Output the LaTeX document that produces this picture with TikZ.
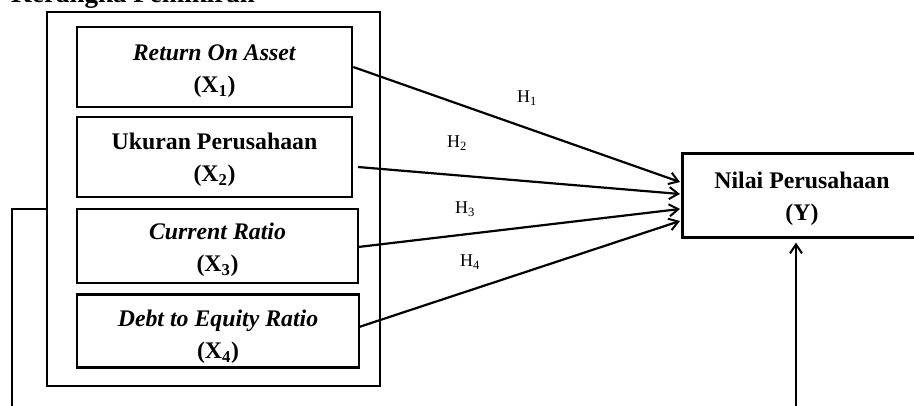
\documentclass[tikz,border=0pt]{standalone}
\usepackage{fontspec}
\setmainfont{Liberation Serif}
\usetikzlibrary{arrows.meta,calc}
\newcommand{\lowerby}[1]{\rule{0pt}{#1}}
\begin{document}
\begin{tikzpicture}[x=1pt,y=-1pt,
  boxfont/.style={font=\fontsize{23.8}{32}\selectfont\bfseries},
  varbox/.style={draw, line width=2.6pt, inner sep=0pt, align=center, boxfont},
  frame/.style={draw, line width=2.6pt, inner sep=0pt},
  link/.style={line width=2.2pt, -{Straight Barb[length=9pt,width=12pt,line width=2pt]}},
  feed/.style={line width=2.2pt},
  hlab/.style={font=\fontsize{18}{18}\selectfont, inner sep=0pt}
]
\path[use as bounding box, clip] (0,0) rectangle (914,405);
\fill[white] (0,0) rectangle (914,405);

% cut-off heading
\node[anchor=base east, inner sep=0pt, font=\fontsize{27}{27}\selectfont\bfseries] (title) at (255,2) {Kerangka Pemikiran};

% outer frame
\node[frame, minimum width=333pt, minimum height=374pt] (outer) at (213.5,199) {};

% variable boxes
\node[varbox, minimum width=275pt, minimum height=80pt] (b1) at (214.5,67) {\lowerby{24pt}\textit{Return On Asset}\\(X\textsubscript{1})};
\node[varbox, minimum width=275pt, minimum height=80pt] (b2) at (214.5,157) {\lowerby{22pt}Ukuran Perusahaan\\(X\textsubscript{2})};
\node[varbox, minimum width=281pt, minimum height=74pt] (b3) at (217.5,246) {\lowerby{24pt}\textit{Current Ratio}\\(X\textsubscript{3})};
\node[varbox, minimum width=282pt, minimum height=73pt] (b4) at (218,331) {\lowerby{28pt}\textit{Debt to Equity Ratio}\\(X\textsubscript{4})};

% dependent variable (runs past the right edge)
\node[varbox, minimum width=300pt, minimum height=84pt, anchor=north west] (yv) at (681,152) {};
\node[boxfont, align=center, inner sep=0pt] (ytxt) at (802,199) {Nilai Perusahaan\\(Y)};

% connector endpoints
\coordinate (s2) at (358,167);
\coordinate (s3) at (358,247);
\coordinate (s4) at (359,327);
\coordinate (e1) at (680,182);
\coordinate (e2) at (680,194);
\coordinate (e3) at (680,209);
\coordinate (e4) at (680,221);

\draw[link] (b1.east) -- (e1);
\draw[link] (s2) -- (e2);
\draw[link] (s3) -- (e3);
\draw[link] (s4) -- (e4);

\node[hlab] (h1) at (527,98) {H\textsubscript{1}};
\node[hlab] (h2) at (457,143) {H\textsubscript{2}};
\node[hlab] (h3) at (465,209) {H\textsubscript{3}};
\node[hlab] (h4) at (470,262) {H\textsubscript{4}};

% feedback lines
\coordinate (rb) at (796,410);
\draw[link] (rb) -- ($(rb |- yv.south)+(0,4)$);
\coordinate (lb) at (12,410);
\coordinate (lc) at (12,209);
\draw[feed] (lb) -- (lc) -- (lc -| outer.west);
\end{tikzpicture}
\end{document}
